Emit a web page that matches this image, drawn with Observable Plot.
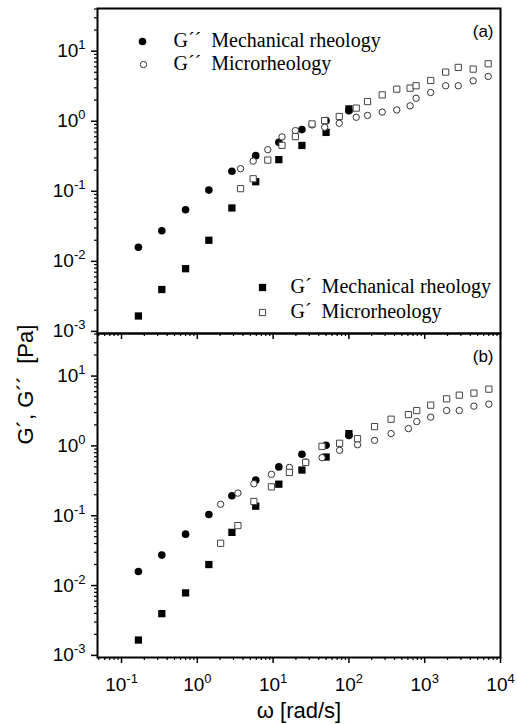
<!DOCTYPE html>
<html>
<head>
<meta charset="utf-8">
<script src="https://cdn.jsdelivr.net/npm/d3@7"></script>
<script src="https://cdn.jsdelivr.net/npm/@observablehq/plot@0.6"></script>
<style>
  html, body { margin: 0; padding: 0; background: #fff; }
  #chart { position: relative; width: 518px; height: 724px; background: #fff; overflow: hidden; }
  #chart svg { position: absolute; left: 0; }
</style>
</head>
<body>
<div id="chart"></div>
<script>
// ---- data ----
// Mechanical rheology (same in both panels)
const omegaMech = [0.167, 0.34, 0.70, 1.42, 2.86, 5.9, 11.9, 24, 50, 100];
const gppMech   = [0.0159, 0.0273, 0.0545, 0.104, 0.193, 0.323, 0.50, 0.76, 1.02, 1.41];
const gpMech    = [0.00166, 0.00396, 0.00785, 0.020, 0.0578, 0.137, 0.283, 0.451, 0.693, 1.50];

// Microrheology, panel (a)
const omegaMicroA = [3.72, 5.46, 8.51, 13.1, 19.7, 32.6, 47.9, 74.6, 125, 176, 275, 428, 642, 769, 1200, 1890, 2770, 4360, 6880];
const gppMicroA   = [0.210, 0.270, 0.393, 0.597, 0.735, 0.886, 0.82, 0.936, 1.14, 1.21, 1.35, 1.45, 1.66, 2.13, 2.57, 3.21, 3.21, 3.78, 4.36];
const gpMicroA    = [0.109, 0.151, 0.279, 0.453, 0.603, 0.916, 1.02, 1.17, 1.54, 1.91, 2.38, 2.87, 2.97, 3.21, 3.82, 5.03, 5.87, 5.55, 6.62];

// Microrheology, panel (b)
const omegaMicroB = [2.03, 3.43, 5.57, 9.5, 16.4, 26.9, 44.2, 75.4, 130, 218, 360, 610, 785, 1200, 1946, 2860, 4460, 7020];
const gppMicroB   = [0.146, 0.211, 0.287, 0.391, 0.492, 0.587, 0.678, 0.864, 1.04, 1.20, 1.50, 1.77, 2.23, 2.58, 3.21, 3.21, 3.71, 3.96];
const gpMicroB    = [0.0403, 0.0722, 0.160, 0.259, 0.417, 0.581, 0.986, 1.09, 1.27, 1.89, 2.41, 2.81, 3.21, 3.83, 4.72, 5.33, 5.70, 6.50];

// ticks and texts
const xMajorTicks = [0.1, 1, 10, 100, 1000, 10000];
const yMajorTicks = [0.001, 0.01, 0.1, 1, 10];
const legendTop = ["G´´  Mechanical rheology", "G´´  Microrheology"];
const legendBottom = ["G´  Mechanical rheology", "G´  Microrheology"];
const panelLabels = ["(a)", "(b)"];
const yLabel = "G´, G´´  [Pa]";
const xLabel = "ω [rad/s]";

// ---- scale setup ----
const xDomain = [0.0482, 10000];
const yDomain = [0.000933, 40.7];
const xMinorTicks = [];
for (let k = -2; k <= 3; k++) for (let m = 2; m <= 9; m++) {
  const v = m * Math.pow(10, k);
  if (v >= xDomain[0] && v <= xDomain[1]) xMinorTicks.push(v);
}
const yMinorTicks = [];
for (let k = -4; k <= 1; k++) for (let m = 2; m <= 9; m++) {
  const v = m * Math.pow(10, k);
  if (v >= yDomain[0] && v <= yDomain[1]) yMinorTicks.push(v);
}
const expFmt = d => "10^" + Math.round(Math.log10(d));
const blank = () => "";

const SANS = "'Liberation Sans', Arial, Helvetica, sans-serif";
const SERIF = "'Liberation Serif', 'Times New Roman', serif";
const svgStyle = `background: transparent; overflow: visible; font-family: ${SANS}; color: black;`;

function rows(omega, gpp, gp) {
  return omega.map((w, i) => ({w, gpp: gpp[i], gp: gp[i]}));
}

function panel({micro, label, height, marginTop, marginBottom, bottomAxis, extra}) {
  const mech = rows(omegaMech, gppMech, gpMech);
  return Plot.plot({
    width: 518,
    height,
    marginLeft: 97,
    marginRight: 18,
    marginTop,
    marginBottom,
    style: svgStyle,
    x: {type: "log", domain: xDomain},
    y: {type: "log", domain: yDomain},
    marks: [
      Plot.axisY({ticks: yMajorTicks, tickSize: 6, tickPadding: 6, tickFormat: expFmt,
                  fontSize: 19, label: null, strokeWidth: 1.5}),
      Plot.axisY({ticks: yMinorTicks, tickSize: 3, tickFormat: blank, label: null, strokeWidth: 1.2}),
      ...bottomAxis,
      Plot.dot(mech, {x: "w", y: "gpp", symbol: "circle", r: 3.8, fill: "black"}),
      Plot.dot(mech, {x: "w", y: "gp", symbol: "square", r: 4.1, fill: "black"}),
      Plot.dot(micro, {x: "w", y: "gpp", symbol: "circle", r: 3.2, fill: "white", stroke: "#333", strokeWidth: 1}),
      Plot.dot(micro, {x: "w", y: "gp", symbol: "square", r: 3.5, fill: "white", stroke: "#444", strokeWidth: 1}),
      Plot.frame({stroke: "black", strokeWidth: 2}),
      Plot.text([label], {frameAnchor: "top-right", dx: -7, dy: 23, fontSize: 17,
                          textAnchor: "end", lineAnchor: "middle", fill: "black"}),
      ...extra
    ]
  });
}

const svgA = panel({
  micro: rows(omegaMicroA, gppMicroA, gpMicroA),
  label: panelLabels[0],
  height: 333, marginTop: 8, marginBottom: 0,
  bottomAxis: [
    Plot.axisX({ticks: xMajorTicks, tickSize: 6, tickFormat: blank, label: null, strokeWidth: 1.5}),
    Plot.axisX({ticks: xMinorTicks, tickSize: 3, tickFormat: blank, label: null, strokeWidth: 1.2})
  ],
  extra: [
    Plot.dot([legendTop[0]], {frameAnchor: "top-left", dx: 45, dy: 33, symbol: "circle", r: 3.8, fill: "black"}),
    Plot.dot([legendTop[1]], {frameAnchor: "top-left", dx: 46, dy: 56, symbol: "circle", r: 3.2, fill: "white", stroke: "#333", strokeWidth: 1}),
    Plot.text([legendTop[0]], {frameAnchor: "top-left", dx: 76, dy: 32, fontSize: 20, fontFamily: SERIF,
                               textAnchor: "start", lineAnchor: "middle", fill: "black"}),
    Plot.text([legendTop[1]], {frameAnchor: "top-left", dx: 76, dy: 55, fontSize: 20, fontFamily: SERIF,
                               textAnchor: "start", lineAnchor: "middle", fill: "black"}),
    Plot.dot([legendBottom[0]], {frameAnchor: "bottom-left", dx: 165, dy: -46, symbol: "square", r: 4.1, fill: "black"}),
    Plot.dot([legendBottom[1]], {frameAnchor: "bottom-left", dx: 165, dy: -21, symbol: "square", r: 3.5, fill: "white", stroke: "#444", strokeWidth: 1}),
    Plot.text([legendBottom[0]], {frameAnchor: "bottom-left", dx: 193, dy: -47, fontSize: 20, fontFamily: SERIF,
                                  textAnchor: "start", lineAnchor: "middle", fill: "black"}),
    Plot.text([legendBottom[1]], {frameAnchor: "bottom-left", dx: 193, dy: -22, fontSize: 20, fontFamily: SERIF,
                                  textAnchor: "start", lineAnchor: "middle", fill: "black"})
  ]
});

const svgB = panel({
  micro: rows(omegaMicroB, gppMicroB, gpMicroB),
  label: panelLabels[1],
  height: 391, marginTop: 0, marginBottom: 67,
  bottomAxis: [
    Plot.axisX({ticks: xMajorTicks, tickSize: 6, tickPadding: 14, tickFormat: expFmt,
                fontSize: 19, label: null, strokeWidth: 1.5}),
    Plot.axisX({ticks: xMinorTicks, tickSize: 3, tickFormat: blank, label: null, strokeWidth: 1.2})
  ],
  extra: [
    Plot.text([yLabel], {frameAnchor: "top-left", dx: -72, dy: 51, rotate: -90, fontSize: 22,
                         textAnchor: "middle", lineAnchor: "middle", fill: "black"}),
    Plot.text([xLabel], {frameAnchor: "bottom", dy: 53, fontSize: 22,
                         textAnchor: "middle", lineAnchor: "middle", fill: "black"})
  ]
});

// turn "10^k" tick labels into 10 with a superscript exponent (still real text)
function superscripts(svg) {
  d3.select(svg).selectAll("text").each(function () {
    const t = this.textContent;
    const i = t.indexOf("^");
    if (i < 0) return;
    this.textContent = t.slice(0, i);
    d3.select(this).append("tspan")
      .attr("dy", -8)
      .attr("font-size", 13)
      .text(t.slice(i + 1));
  });
}
superscripts(svgA);
superscripts(svgB);

svgA.style.top = "0px";
svgB.style.top = "333px";
const chart = document.getElementById("chart");
chart.appendChild(svgA);
chart.appendChild(svgB);
</script>
</body>
</html>
